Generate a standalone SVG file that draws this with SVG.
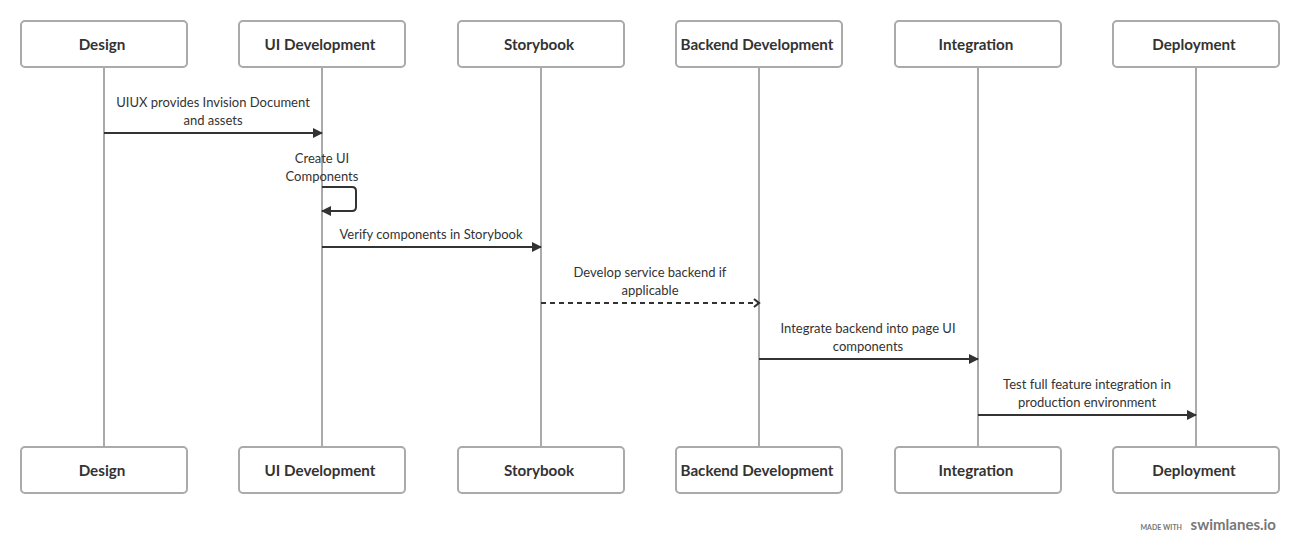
<svg xmlns="http://www.w3.org/2000/svg" width="1300" height="554" viewBox="0 0 1300 554">
<style>
.box{fill:#fff;stroke:#aaa;stroke-width:2}
.life{stroke:#aaa;stroke-width:2}
.t{font-family:"Lato","Open Sans","Liberation Sans",sans-serif;font-size:15.2px;font-weight:bold;fill:#333;text-anchor:middle}
.m{font-family:"Lato","Open Sans","Liberation Sans",sans-serif;font-size:13px;fill:#333;text-anchor:middle}
.a{stroke:#333;stroke-width:2;fill:none}
.d{stroke-dasharray:5 4}
</style>
<defs>
<marker id="ah" markerWidth="10" markerHeight="10" refX="9" refY="5" orient="auto" markerUnits="userSpaceOnUse">
<path d="M0,0 L10,5 L0,10 Z" fill="#333"/>
</marker>
<marker id="oh" markerWidth="10" markerHeight="10" refX="8" refY="5" orient="auto" markerUnits="userSpaceOnUse">
<path d="M3,1 L8,5 L3,9" fill="none" stroke="#333" stroke-width="2.2"/>
</marker>
</defs>
<rect width="1300" height="554" fill="#fff"/>
<g id="lifelines">
<line class="life" x1="104" y1="67" x2="104" y2="447"/>
<line class="life" x1="322" y1="67" x2="322" y2="447"/>
<line class="life" x1="541" y1="67" x2="541" y2="447"/>
<line class="life" x1="759" y1="67" x2="759" y2="447"/>
<line class="life" x1="978" y1="67" x2="978" y2="447"/>
<line class="life" x1="1196" y1="67" x2="1196" y2="447"/>
</g>
<g id="design">
<rect class="box" x="21" y="21" width="166" height="46" rx="4"/><text class="t" x="102" y="50">Design</text>
<rect class="box" x="21" y="447" width="166" height="46" rx="4"/><text class="t" x="102" y="476">Design</text>
</g>
<g id="ui-development">
<rect class="box" x="239" y="21" width="166" height="46" rx="4"/><text class="t" x="320" y="50">UI Development</text>
<rect class="box" x="239" y="447" width="166" height="46" rx="4"/><text class="t" x="320" y="476">UI Development</text>
</g>
<g id="storybook">
<rect class="box" x="458" y="21" width="166" height="46" rx="4"/><text class="t" x="539" y="50">Storybook</text>
<rect class="box" x="458" y="447" width="166" height="46" rx="4"/><text class="t" x="539" y="476">Storybook</text>
</g>
<g id="backend-development">
<rect class="box" x="676" y="21" width="166" height="46" rx="4"/><text class="t" x="757" y="50">Backend Development</text>
<rect class="box" x="676" y="447" width="166" height="46" rx="4"/><text class="t" x="757" y="476">Backend Development</text>
</g>
<g id="integration">
<rect class="box" x="895" y="21" width="166" height="46" rx="4"/><text class="t" x="976" y="50">Integration</text>
<rect class="box" x="895" y="447" width="166" height="46" rx="4"/><text class="t" x="976" y="476">Integration</text>
</g>
<g id="deployment">
<rect class="box" x="1113" y="21" width="166" height="46" rx="4"/><text class="t" x="1194" y="50">Deployment</text>
<rect class="box" x="1113" y="447" width="166" height="46" rx="4"/><text class="t" x="1194" y="476">Deployment</text>
</g>
<g id="connectors">
<line class="a" x1="104" y1="133" x2="322" y2="133" marker-end="url(#ah)"/>
<text class="m" x="213" y="107">UIUX provides Invision Document</text>
<text class="m" x="213" y="125">and assets</text>
<path class="a" d="M322,187 H352 Q356,187 356,191 V207 Q356,211 352,211 H322" marker-end="url(#ah)"/>
<text class="m" x="322" y="163">Create UI</text>
<text class="m" x="322" y="181">Components</text>
<line class="a" x1="322" y1="247" x2="541" y2="247" marker-end="url(#ah)"/>
<text class="m" x="431" y="239">Verify components in Storybook</text>
<line class="a d" x1="541" y1="303" x2="759" y2="303" marker-end="url(#oh)"/>
<text class="m" x="650" y="277">Develop service backend if</text>
<text class="m" x="650" y="295">applicable</text>
<line class="a" x1="759" y1="359" x2="978" y2="359" marker-end="url(#ah)"/>
<text class="m" x="868" y="333">Integrate backend into page UI</text>
<text class="m" x="868" y="351">components</text>
<line class="a" x1="978" y1="415" x2="1196" y2="415" marker-end="url(#ah)"/>
<text class="m" x="1087" y="389">Test full feature integration in</text>
<text class="m" x="1087" y="407">production environment</text>
</g>
<g id="watermark">
<text x="1182" y="530" font-family="Lato,'Liberation Sans',sans-serif" font-size="7" font-weight="bold" fill="#777" text-anchor="end">MADE WITH</text>
<text x="1276" y="530" font-family="Lato,'Liberation Sans',sans-serif" font-size="15" font-weight="bold" fill="#777" text-anchor="end">swimlanes.io</text>
</g>
</svg>
